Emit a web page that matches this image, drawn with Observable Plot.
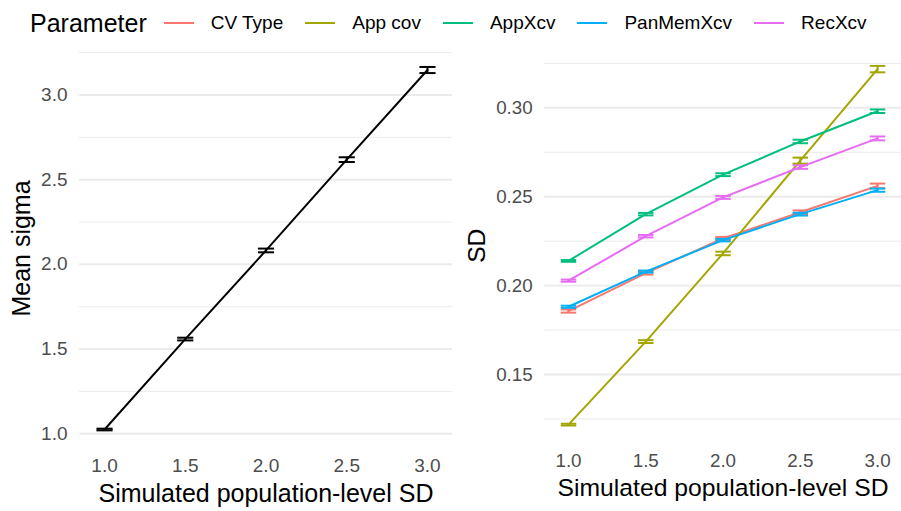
<!DOCTYPE html>
<html>
<head>
<meta charset="utf-8">
<script src="https://cdn.jsdelivr.net/npm/d3@7"></script>
<script src="https://cdn.jsdelivr.net/npm/@observablehq/plot@0.6"></script>
<style>
  html, body { margin: 0; padding: 0; background: #fff; width: 901px; height: 511px; overflow: hidden; }
  #wrap { position: relative; width: 901px; height: 511px; }
  #left, #right { position: absolute; top: 0; }
  #left { left: 0; }
  #right { left: 460px; }
  svg [aria-label="x-axis label"] text, svg [aria-label="y-axis label"] text,
  svg [aria-label="x-axis label"], svg [aria-label="y-axis label"] { font-size: 25px; fill: #000; }
  #legend { position: absolute; left: 30px; top: 8px; height: 30px; display: flex; align-items: center;
    font-family: "Liberation Sans", Arial, sans-serif; color: #000; z-index: 5; }
  #legend .title { font-size: 25px; margin-right: 17px; }
  #legend .key { width: 30px; height: 2.5px; margin-right: 17px; }
  #legend .lab { font-size: 19px; margin-right: 22px; }
</style>
</head>
<body>
<div id="wrap">
  <div id="left"></div>
  <div id="right"></div>
  <div id="legend"></div>
</div>
<script>
// ---- data ----
const xs = [1.0, 1.5, 2.0, 2.5, 3.0];
const xTicks = [1.0, 1.5, 2.0, 2.5, 3.0];

const meanSigma = [1.025, 1.559, 2.082, 2.618, 3.147];
const meanSigmaErr = [0.005, 0.008, 0.011, 0.014, 0.018];
const leftMajor = [1.0, 1.5, 2.0, 2.5, 3.0];
const leftMinor = [1.25, 1.75, 2.25, 2.75, 3.25];

const params = ["CV Type", "App cov", "AppXcv", "PanMemXcv", "RecXcv"];
const paramColors = ["#F8766D", "#A3A500", "#00BF7D", "#00B0F6", "#E76BF3"];
const sdCVType    = [0.1857, 0.2070, 0.2265, 0.2413, 0.2561];
const sdAppCov    = [0.1218, 0.1685, 0.2181, 0.2703, 0.3218];
const sdAppXcv    = [0.2139, 0.2402, 0.2624, 0.2811, 0.2981];
const sdPanMemXcv = [0.1881, 0.2079, 0.2256, 0.2402, 0.2537];
const sdRecXcv    = [0.2028, 0.2278, 0.2496, 0.2667, 0.2828];
const errCVType    = [0.0009, 0.0008, 0.0009, 0.0010, 0.0013];
const errAppCov    = [0.0005, 0.0008, 0.0010, 0.0017, 0.0018];
const errAppXcv    = [0.0005, 0.0007, 0.0008, 0.0010, 0.0010];
const errPanMemXcv = [0.0006, 0.0006, 0.0007, 0.0008, 0.0009];
const errRecXcv    = [0.0006, 0.0007, 0.0008, 0.0010, 0.0011];
const rightMajor = [0.15, 0.20, 0.25, 0.30];
const rightMinor = [0.125, 0.175, 0.225, 0.275, 0.325];

const capHalf = 0.05; // half width of error bar caps (x units)

// ---- tables ----
const leftData = xs.map((x, i) => ({x, y: meanSigma[i], lo: meanSigma[i] - meanSigmaErr[i], hi: meanSigma[i] + meanSigmaErr[i]}));
const seriesVals = [sdCVType, sdAppCov, sdAppXcv, sdPanMemXcv, sdRecXcv];
const seriesErr = [errCVType, errAppCov, errAppXcv, errPanMemXcv, errRecXcv];
const rightData = [];
params.forEach((p, k) => xs.forEach((x, i) => rightData.push({
  param: p, x, y: seriesVals[k][i], lo: seriesVals[k][i] - seriesErr[k][i], hi: seriesVals[k][i] + seriesErr[k][i]
})));

const font = {fontFamily: "'Liberation Sans', Arial, sans-serif", fontSize: "19px", color: "#4D4D4D", overflow: "visible"};

function errMarks(data, stroke) {
  return [
    Plot.ruleX(data, {x: "x", y1: "lo", y2: "hi", stroke, strokeWidth: 2}),
    Plot.link(data, {x1: d => d.x - capHalf, x2: d => d.x + capHalf, y1: "lo", y2: "lo", stroke, strokeWidth: 2}),
    Plot.link(data, {x1: d => d.x - capHalf, x2: d => d.x + capHalf, y1: "hi", y2: "hi", stroke, strokeWidth: 2})
  ];
}

const left = Plot.plot({
  width: 460, height: 511,
  marginLeft: 79, marginRight: 8, marginTop: 48, marginBottom: 63,
  style: font,
  x: {domain: [0.845, 3.155], ticks: xTicks, tickFormat: d3.format(".1f")},
  y: {domain: [0.913, 3.274], ticks: leftMajor, tickFormat: d3.format(".1f")},
  marks: [
    Plot.ruleY(leftMinor, {stroke: "#EBEBEB", strokeWidth: 1}),
    Plot.ruleY(leftMajor, {stroke: "#EBEBEB", strokeWidth: 2}),
    Plot.axisX({ticks: xTicks, tickSize: 0, tickPadding: 10, tickFormat: d3.format(".1f"),
      label: "Simulated population-level SD", labelAnchor: "center", labelArrow: "none", labelOffset: 53}),
    Plot.axisY({ticks: leftMajor, tickSize: 0, tickPadding: 12, tickFormat: d3.format(".1f"),
      label: "Mean sigma", labelAnchor: "center", labelArrow: "none", labelOffset: 67}),
    ...errMarks(leftData, "#000"),
    Plot.line(leftData, {x: "x", y: "y", stroke: "#000", strokeWidth: 2})
  ]
});
document.getElementById("left").append(left);

const right = Plot.plot({
  width: 446, height: 511,
  marginLeft: 85, marginRight: 0, marginTop: 48, marginBottom: 63,
  style: font,
  x: {domain: [0.845, 3.155], ticks: xTicks, tickFormat: d3.format(".1f")},
  y: {domain: [0.1112, 0.3337], ticks: rightMajor, tickFormat: d3.format(".2f")},
  color: {domain: params, range: paramColors},
  marks: [
    Plot.ruleY(rightMinor, {stroke: "#EBEBEB", strokeWidth: 1}),
    Plot.ruleY(rightMajor, {stroke: "#EBEBEB", strokeWidth: 2}),
    Plot.axisX({ticks: xTicks, tickSize: 0, tickPadding: 10, tickFormat: d3.format(".1f"),
      label: "Simulated population-level SD", labelAnchor: "center", labelArrow: "none", labelOffset: 53}),
    Plot.axisY({ticks: rightMajor, tickSize: 0, tickPadding: 12, tickFormat: d3.format(".2f"),
      label: "SD", labelAnchor: "center", labelArrow: "none", labelOffset: 78}),
    ...params.flatMap((p, k) => {
      const d = rightData.filter(r => r.param === p);
      return [...errMarks(d, paramColors[k]), Plot.line(d, {x: "x", y: "y", stroke: paramColors[k], strokeWidth: 2})];
    })
  ]
});
document.getElementById("right").append(right);

// legend
const leg = document.getElementById("legend");
const t = document.createElement("span"); t.className = "title"; t.textContent = "Parameter"; leg.append(t);
params.forEach((p, k) => {
  const key = document.createElement("span"); key.className = "key"; key.style.background = paramColors[k]; leg.append(key);
  const lab = document.createElement("span"); lab.className = "lab"; lab.textContent = p; leg.append(lab);
});
</script>
</body>
</html>
